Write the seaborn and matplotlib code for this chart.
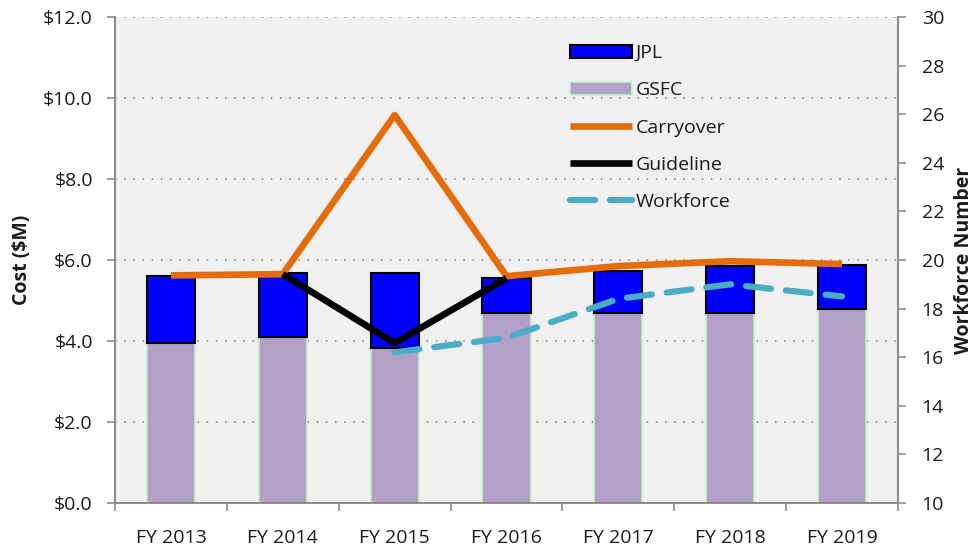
import numpy as np
import pandas as pd
import matplotlib
matplotlib.use("Agg")
import matplotlib.pyplot as plt
import seaborn as sns

# ---- data ----
years = ["FY 2013", "FY 2014", "FY 2015", "FY 2016", "FY 2017", "FY 2018", "FY 2019"]
gsfc = [3.95, 4.10, 3.83, 4.68, 4.68, 4.68, 4.78]
jpl = [1.65, 1.57, 1.84, 0.88, 1.06, 1.17, 1.10]
carryover = [5.62, 5.65, 9.58, 5.60, 5.85, 5.97, 5.90]
guideline = [np.nan, 5.65, 3.95, 5.55, np.nan, np.nan, np.nan]
workforce = [np.nan, np.nan, 16.2, 16.8, 18.4, 19.0, 18.5]

sns.set_theme(style="white")
plt.rcParams["font.family"] = ["Open Sans", "DejaVu Sans"]

df = pd.DataFrame({"year": years, "gsfc": gsfc, "jpl": jpl,
                   "carryover": carryover, "guideline": guideline,
                   "workforce": workforce})
df["pos"] = np.arange(len(df))

fig = plt.figure(figsize=(9.77, 5.5), dpi=100)
ax = fig.add_axes([115 / 977, 1 - 503 / 550, 783 / 977, 486 / 550])
ax.set_facecolor("#F0F0F0")

bw = 0.43
sns.barplot(data=df, x="pos", y="gsfc", color="#B1A0C7", edgecolor="#C6EFC6",
            linewidth=1.2, width=bw, saturation=1, ax=ax, label="GSFC",
            native_scale=True, zorder=2)
sns.barplot(data=df, x="pos", y="jpl", color="#0000FF", edgecolor="black",
            linewidth=1.5, width=bw, saturation=1, ax=ax, label="JPL",
            bottom=df["gsfc"].values, native_scale=True, zorder=2)

sns.lineplot(data=df, x="pos", y="carryover", color="#E46C0A", lw=4.8,
             ax=ax, label="Carryover", zorder=4, solid_capstyle="butt")
sns.lineplot(data=df.dropna(subset=["guideline"]), x="pos", y="guideline",
             color="black", lw=4.8, ax=ax, label="Guideline", zorder=5,
             solid_capstyle="butt")

ax.set_ylim(0, 12)
ax.set_xlim(-0.5, len(years) - 0.5)
ax.set_yticks(np.arange(0, 12.1, 2))
ax.set_yticklabels([f"${v:.1f}" for v in np.arange(0, 12.1, 2)])
ax.set_xticks(np.arange(len(years)))
ax.set_xticklabels(years)
ax.set_xticks(np.arange(len(years) + 1) - 0.5, minor=True)
ax.grid(axis="y", color="#7F7F7F", linestyle=(0, (1, 5)), lw=1.1, zorder=1)
ax.set_axisbelow(True)
ax.set_xlabel("")
ax.set_ylabel("Cost ($M)", fontsize=14, fontweight="bold", labelpad=8,
              color="#1a1a1a")

ax2 = ax.twinx()
sns.lineplot(data=df.dropna(subset=["workforce"]), x="pos", y="workforce",
             color="#4BACC6", lw=4.5, ax=ax2, label="Workforce")
wl = ax2.lines[-1]
wl.set_dashes([4, 2.4])
wl.set_dash_capstyle("round")
ax2.set_ylim(10, 30)
ax2.set_yticks(np.arange(10, 31, 2))
ax2.set_ylabel("Workforce Number", fontsize=14, fontweight="bold", labelpad=7,
               color="#1a1a1a")
ax2.set_xlim(-0.5, len(years) - 0.5)

for a in (ax, ax2):
    for s in a.spines.values():
        s.set_visible(False)
    a.spines["left"].set_visible(a is ax)
    a.spines["right"].set_visible(a is ax2)
    a.spines["bottom"].set_visible(a is ax)
    for s in ("left", "right", "bottom"):
        a.spines[s].set_color("#8C8C8C")
        a.spines[s].set_linewidth(1.5)

ax.tick_params(axis="y", which="major", left=True, length=6, width=1.2,
               color="#8C8C8C", labelsize=14, labelcolor="#1a1a1a", pad=10)
ax.tick_params(axis="x", which="major", bottom=True, length=0,
               labelsize=14, labelcolor="#1a1a1a", pad=18.5)
ax.tick_params(axis="x", which="minor", bottom=True, length=6, width=1.2,
               color="#8C8C8C")
ax2.tick_params(axis="y", right=True, length=6, width=1.2, color="#8C8C8C",
                labelsize=14, labelcolor="#1a1a1a", pad=11)

# legend
h1, l1 = ax.get_legend_handles_labels()
h2, l2 = ax2.get_legend_handles_labels()
hd = dict(zip(l1 + l2, h1 + h2))
order = ["JPL", "GSFC", "Carryover", "Guideline", "Workforce"]
if ax.get_legend():
    ax.get_legend().remove()
leg = ax2.legend([hd[k] for k in order], order, loc="upper left",
                 bbox_to_anchor=(0.559, 0.98), frameon=False, fontsize=14,
                 handlelength=3.2, handletextpad=0.15, labelspacing=0.99)
for t in leg.get_texts():
    t.set_color("#1a1a1a")

fig.savefig("out.png", dpi=100)
